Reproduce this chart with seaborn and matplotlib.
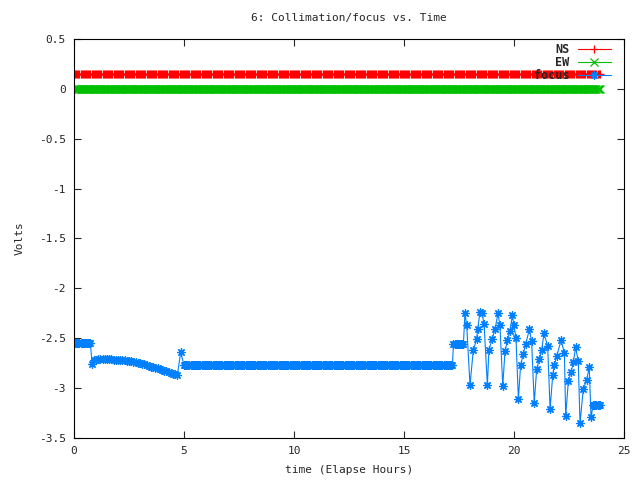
import numpy as np
import pandas as pd
import seaborn as sns
import matplotlib
matplotlib.use("Agg")
import matplotlib.pyplot as plt

# NS / EW are flat over the whole run
run_start, run_end, sample_step = 0.0, 23.9, 0.05
ns_level = 0.15
ew_level = 0.0

# focus: flat stretches (start, end, level)
flat_start = [0.0, 5.0, 17.25, 23.6]
flat_end = [0.78, 17.2, 17.7, 23.9]
flat_level = [-2.55, -2.77, -2.56, -3.17]

# focus: slow drift after the first jump, plus the spike near 5 h
drift_t = [0.82, 0.9, 1.0, 1.1, 1.2, 1.3, 1.4, 1.5, 1.6, 1.7, 1.8, 1.9, 2.0,
           2.1, 2.2, 2.3, 2.4, 2.5, 2.6, 2.7, 2.8, 2.9, 3.0, 3.1, 3.2, 3.3,
           3.4, 3.5, 3.6, 3.7, 3.8, 3.9, 4.0, 4.1, 4.2, 4.3, 4.4, 4.5, 4.6,
           4.7, 4.85]
drift_v = [-2.76, -2.72, -2.72, -2.71, -2.71, -2.71, -2.71, -2.71, -2.71,
           -2.71, -2.72, -2.72, -2.72, -2.72, -2.72, -2.72, -2.73, -2.73,
           -2.73, -2.74, -2.74, -2.75, -2.75, -2.76, -2.76, -2.77, -2.78,
           -2.79, -2.79, -2.80, -2.80, -2.81, -2.82, -2.83, -2.83, -2.84,
           -2.85, -2.86, -2.86, -2.87, -2.64]

# focus: sawtooth at the end of the run
saw_t = [17.77, 17.85, 18.0, 18.15, 18.3, 18.35, 18.45, 18.55, 18.64, 18.79,
         18.86, 19.0, 19.14, 19.27, 19.36, 19.49, 19.59, 19.7, 19.82, 19.92,
         20.0, 20.09, 20.2, 20.3, 20.42, 20.53, 20.7, 20.8, 20.92, 21.03,
         21.15, 21.26, 21.36, 21.53, 21.64, 21.76, 21.83, 21.94, 22.14, 22.29,
         22.35, 22.47, 22.59, 22.7, 22.8, 22.92, 23.0, 23.15, 23.3, 23.42, 23.5]
saw_v = [-2.25, -2.37, -2.97, -2.62, -2.51, -2.41, -2.24, -2.25, -2.36, -2.97,
         -2.62, -2.51, -2.41, -2.25, -2.37, -2.98, -2.63, -2.52, -2.43, -2.27,
         -2.37, -2.50, -3.11, -2.77, -2.66, -2.56, -2.41, -2.53, -3.15, -2.81,
         -2.71, -2.62, -2.45, -2.58, -3.21, -2.87, -2.77, -2.68, -2.52, -2.65,
         -3.28, -2.93, -2.84, -2.74, -2.59, -2.73, -3.35, -3.01, -2.92, -2.79,
         -3.29]

t = np.arange(run_start, run_end + 1e-9, sample_step)
ns = pd.DataFrame({"t": t, "v": ns_level})
ew = pd.DataFrame({"t": t, "v": ew_level})

parts = [pd.DataFrame({"t": drift_t, "v": drift_v}),
         pd.DataFrame({"t": saw_t, "v": saw_v})]
for a, b, lev in zip(flat_start, flat_end, flat_level):
    tt = np.arange(a, b + 1e-9, sample_step)
    parts.append(pd.DataFrame({"t": tt, "v": lev}))
focus = pd.concat(parts).sort_values("t").reset_index(drop=True)

sns.set_style("ticks")
plt.rcParams["font.family"] = ["DejaVu Sans Mono"]
plt.rcParams["font.size"] = 8
plt.rcParams["xtick.direction"] = "in"
plt.rcParams["ytick.direction"] = "in"

fig = plt.figure(figsize=(6.4, 4.8), dpi=100)
ax = fig.add_axes([0.1156, 0.0875, 0.8594, 0.8313])

red, green, blue = "#ff0000", "#00c000", "#0080ff"
star = (8, 2, 0)
common = dict(ax=ax, x="t", y="v", linewidth=0.8, markeredgewidth=0.9,
              sort=False, estimator=None)
sns.lineplot(data=ns, color=red, marker="+", markersize=6,
             markeredgecolor=red, label="NS", **common)
sns.lineplot(data=ew, color=green, marker="x", markersize=5.5,
             markeredgecolor=green, label="EW", **common)
sns.lineplot(data=focus, color=blue, marker=star, markersize=6,
             markeredgecolor=blue, label="focus", **common)

ax.set_xlim(0, 25)
ax.set_ylim(-3.5, 0.5)
ax.set_xticks(np.arange(0, 26, 5))
ax.set_yticks(np.arange(-3.5, 0.51, 0.5))
ax.set_yticklabels(["-3.5", "-3", "-2.5", "-2", "-1.5", "-1", "-0.5", "0", "0.5"])
ax.tick_params(top=True, right=True, length=5, width=0.8, labelsize=8, pad=6)
for s in ax.spines.values():
    s.set_linewidth(0.8)
    s.set_color("black")

ax.set_title("6: Collimation/focus vs. Time", fontsize=8, pad=13)
ax.set_xlabel("time (Elapse Hours)", fontsize=8, labelpad=6)
ax.set_ylabel("Volts", fontsize=8, labelpad=10)

leg = ax.legend(loc="upper right", bbox_to_anchor=(0.98, 0.995), frameon=False,
                markerfirst=False, handlelength=2.8, fontsize=8.5,
                borderaxespad=0.1, borderpad=0.1, labelspacing=0.0,
                handletextpad=0.7)
for txt in leg.get_texts():
    txt.set_fontweight("bold")

fig.savefig("out.png", dpi=100)
